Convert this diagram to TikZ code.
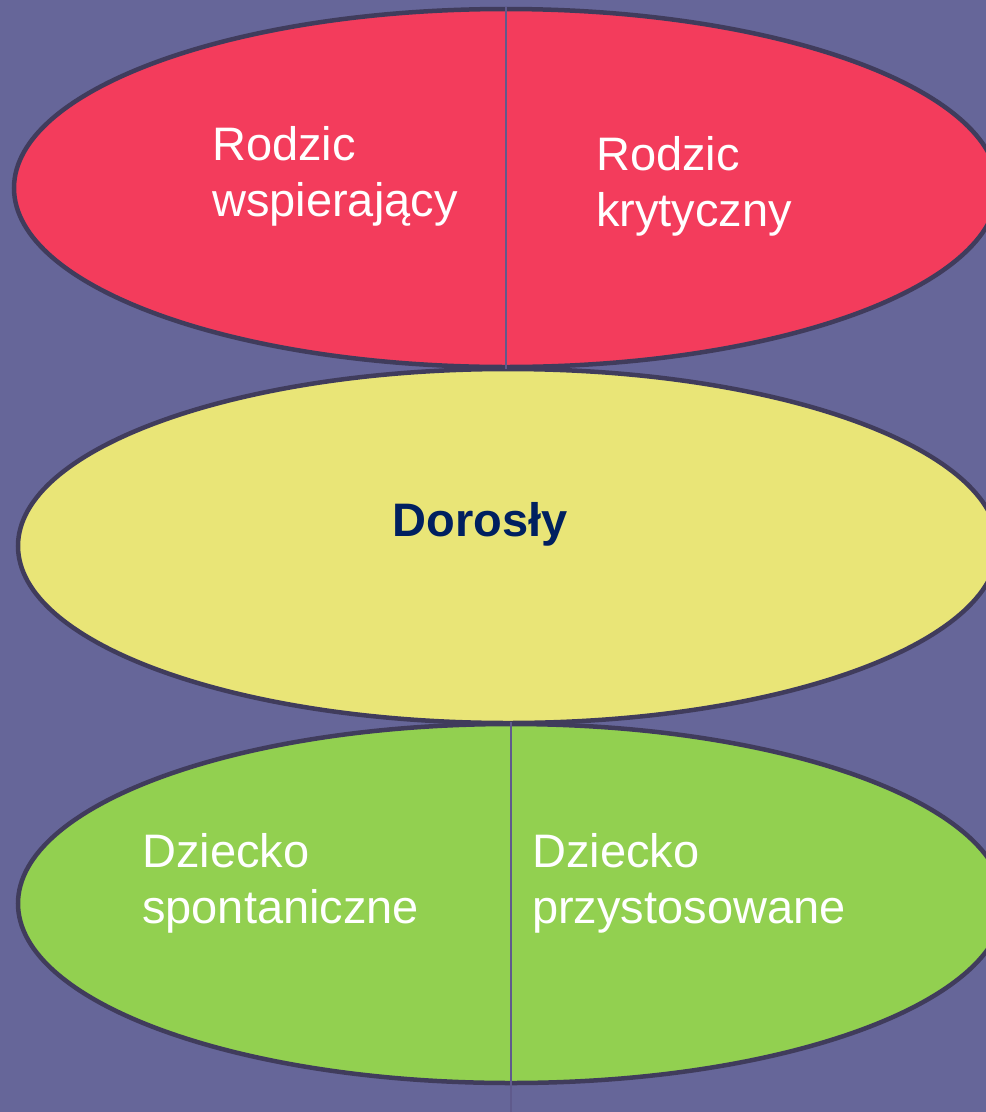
\documentclass[tikz,border=0pt]{standalone}
\usepackage{fontspec}
\setmainfont{Liberation Sans}
\usetikzlibrary{shapes.geometric}
\definecolor{bgc}{RGB}{102,102,153}
\definecolor{redc}{RGB}{243,60,92}
\definecolor{yelc}{RGB}{233,229,119}
\definecolor{grnc}{RGB}{146,208,80}
\definecolor{bordc}{RGB}{64,60,92}
\definecolor{linec}{RGB}{95,90,140}
\definecolor{navyc}{RGB}{0,32,96}
\begin{document}
\begin{tikzpicture}[x=1pt,y=-1pt,
  oval/.style={ellipse,draw=bordc,line width=4.5pt,inner sep=0pt},
  divider/.style={draw=linec,line width=2pt},
  lbl/.style={text=white,font=\fontsize{47}{56}\selectfont,align=left,inner sep=0pt,anchor=base west},
  boldlbl/.style={text=navyc,font=\fontsize{47}{56}\selectfont\bfseries,inner sep=0pt,anchor=base}]
\useasboundingbox (0,0) rectangle (986,1112);
\fill[bgc] (0,0) rectangle (986,1112);
\clip (0,0) rectangle (986,1112);
\node[oval,fill=redc,minimum width=984pt,minimum height=358pt] (rodzic) at (506,188) {};
\node[oval,fill=yelc,minimum width=980pt,minimum height=354pt] (dorosly) at (508,546) {};
\node[oval,fill=grnc,minimum width=986pt,minimum height=359pt] (dziecko) at (511,903.5) {};
\draw[divider] (rodzic.north) -- (rodzic.south);
\coordinate (bottomend) at (511,1112);
\draw[divider] (dziecko.north) -- (bottomend);
\node[lbl] (rw) at (212,216) {Rodzic\\wspierający};
\node[lbl] (rk) at (596,226) {Rodzic\\krytyczny};
\node[boldlbl] (dor) at (480,536) {Dorosły};
\node[lbl] (ds) at (142,923) {Dziecko\\spontaniczne};
\node[lbl] (dp) at (532,923) {Dziecko\\przystosowane};
\end{tikzpicture}
\end{document}
